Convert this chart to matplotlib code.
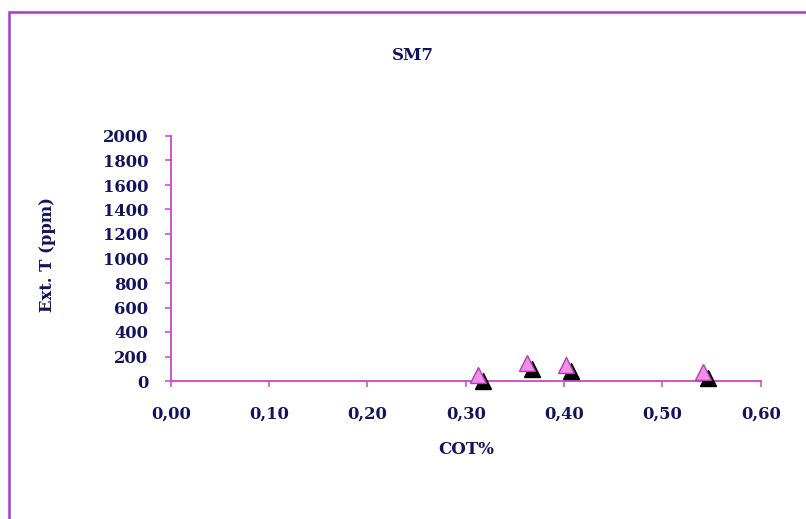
import matplotlib
matplotlib.use("Agg")
import matplotlib.pyplot as plt
from matplotlib.patches import Rectangle
from matplotlib.transforms import offset_copy

# data
cot = [0.3125, 0.3624, 0.4020, 0.5417]
ext_t = [45, 143, 127, 73]
x_ticks = [0.0, 0.1, 0.2, 0.3, 0.4, 0.5, 0.6]
x_tick_labels = ["0,00", "0,10", "0,20", "0,30", "0,40", "0,50", "0,60"]
y_ticks = list(range(0, 2001, 200))
title = "SM7"
x_label = "COT%"
y_label = "Ext. T (ppm)"

W, H = 806, 519
fig = plt.figure(figsize=(W / 100, H / 100), dpi=100)
fig.patch.set_facecolor("white")

navy = "#12125e"
axis_col = "#C746C7"
frame_col = "#A53DBF"
font = {"family": "DejaVu Serif", "weight": "bold"}

# outer frame
fig.patches.append(Rectangle((8.5 / W, -0.2), 1.5, 1 - 12.5 / H + 0.2,
                             transform=fig.transFigure, fill=False,
                             edgecolor=frame_col, linewidth=1.8))

ax = fig.add_axes([170.7 / W, 1 - 381 / H, 590 / W, 245 / H])
ax.set_facecolor("none")
ax.set_xlim(0, 0.6)
ax.set_ylim(0, 2000)
for s in ["top", "right"]:
    ax.spines[s].set_visible(False)
for s in ["left", "bottom"]:
    ax.spines[s].set_color(axis_col)
    ax.spines[s].set_linewidth(1.3)

ax.set_xticks(x_ticks)
ax.set_xticklabels(x_tick_labels)
ax.set_yticks(y_ticks)
ax.tick_params(axis="both", direction="out", length=4, width=1.1, color=axis_col,
               labelcolor=navy)
ax.tick_params(axis="x", pad=14)
ax.tick_params(axis="y", pad=12)
for lab in ax.get_xticklabels() + ax.get_yticklabels():
    lab.set_fontfamily("DejaVu Serif")
    lab.set_fontweight("bold")
    lab.set_fontsize(11.8)

# shadow then markers
shadow = offset_copy(ax.transData, fig=fig, x=5, y=-6, units="dots")
ax.plot(cot, ext_t, linestyle="none", marker="^", markersize=11,
        markerfacecolor="black", markeredgecolor="black", transform=shadow,
        clip_on=False, zorder=3)
ax.plot(cot, ext_t, linestyle="none", marker="^", markersize=11,
        markerfacecolor="#F08FE6", markeredgecolor="#B03CB8", markeredgewidth=1.0,
        clip_on=False, zorder=4)

fig.text(413 / W, 1 - 55 / H, title, ha="center", va="center", color=navy,
         fontsize=12, **font)
fig.text(466 / W, 1 - 450 / H, x_label, ha="center", va="center", color=navy,
         fontsize=12, **font)
fig.text(48 / W, 1 - 255 / H, y_label, ha="center", va="center", rotation=90,
         color=navy, fontsize=11.8, **font)

fig.savefig("out.png", dpi=100, facecolor="white")
